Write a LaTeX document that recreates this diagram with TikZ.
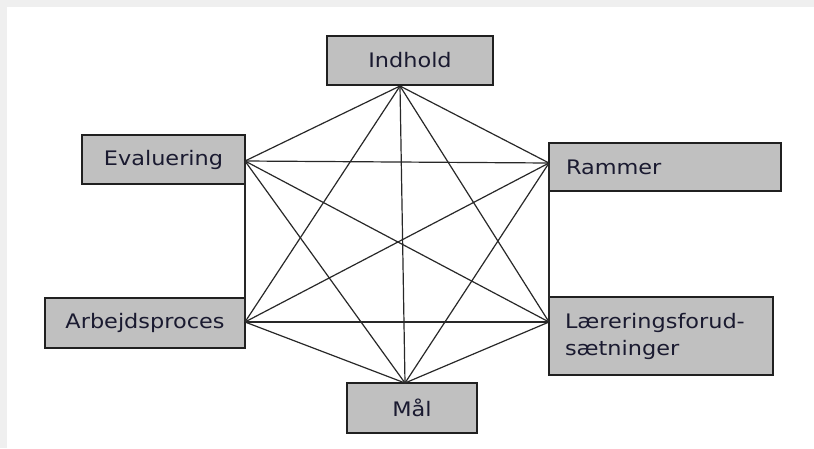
\documentclass[tikz,border=0pt]{standalone}
\usepackage{fontspec}
\setmainfont{DejaVu Sans}[FakeStretch=1.12]
\definecolor{boxfill}{HTML}{C0C0C0}
\definecolor{boxline}{HTML}{202020}
\definecolor{linkcol}{HTML}{282828}
\definecolor{labeltext}{HTML}{1A1A30}
\definecolor{framegray}{HTML}{EFEFEF}
\begin{document}
\begin{tikzpicture}[x=1pt,y=-1pt,
  box/.style={draw=boxline, line width=1.5pt, fill=boxfill, text=labeltext,
    font=\fontsize{20}{27}\selectfont, inner sep=0pt},
  leftbox/.style={box, align=left},
  link/.style={draw=linkcol, line width=1.2pt}]
\useasboundingbox (0,0) rectangle (814,448);
% page background with a light frame on the top and left
\fill[white] (0,0) rectangle (814,448);
\fill[framegray] (0,0) rectangle (814,7);
\fill[framegray] (0,0) rectangle (7,448);

% the six planning factors
\node[box, minimum width=166, minimum height=49] (I) at (410,60.5) {Indhold};
\node[box, minimum width=163, minimum height=49] (E) at (163.5,159.5) {Evaluering};
\node[leftbox, minimum width=232, minimum height=48, text width=198] (R) at (665,167) {Rammer};
\node[box, minimum width=200, minimum height=50] (A) at (145,323) {Arbejdsproces};
\node[leftbox, minimum width=224, minimum height=78, text width=192] (L) at (661,336) {Læreringsforud-\\sætninger};
\node[box, minimum width=130, minimum height=50] (M) at (412,408) {Mål};

% attachment points on the box edges
\coordinate (pI) at (400,86);
\coordinate (pE) at (245,161);
\coordinate (pR) at (549,163);
\coordinate (pA) at (245,322);
\coordinate (pL) at (549,322);
\coordinate (pM) at (405,383);

% every factor is linked to every other one
\draw[link] (pI) -- (pE);
\draw[link] (pI) -- (pR);
\draw[link] (pI) -- (pA);
\draw[link] (pI) -- (pL);
\draw[link] (pI) -- (pM);
\draw[link] (pE) -- (pR);
\draw[link] (pE) -- (pA);
\draw[link] (pE) -- (pL);
\draw[link] (pE) -- (pM);
\draw[link] (pR) -- (pA);
\draw[link] (pR) -- (pL);
\draw[link] (pR) -- (pM);
\draw[link] (pA) -- (pL);
\draw[link] (pA) -- (pM);
\draw[link] (pL) -- (pM);
\end{tikzpicture}
\end{document}
